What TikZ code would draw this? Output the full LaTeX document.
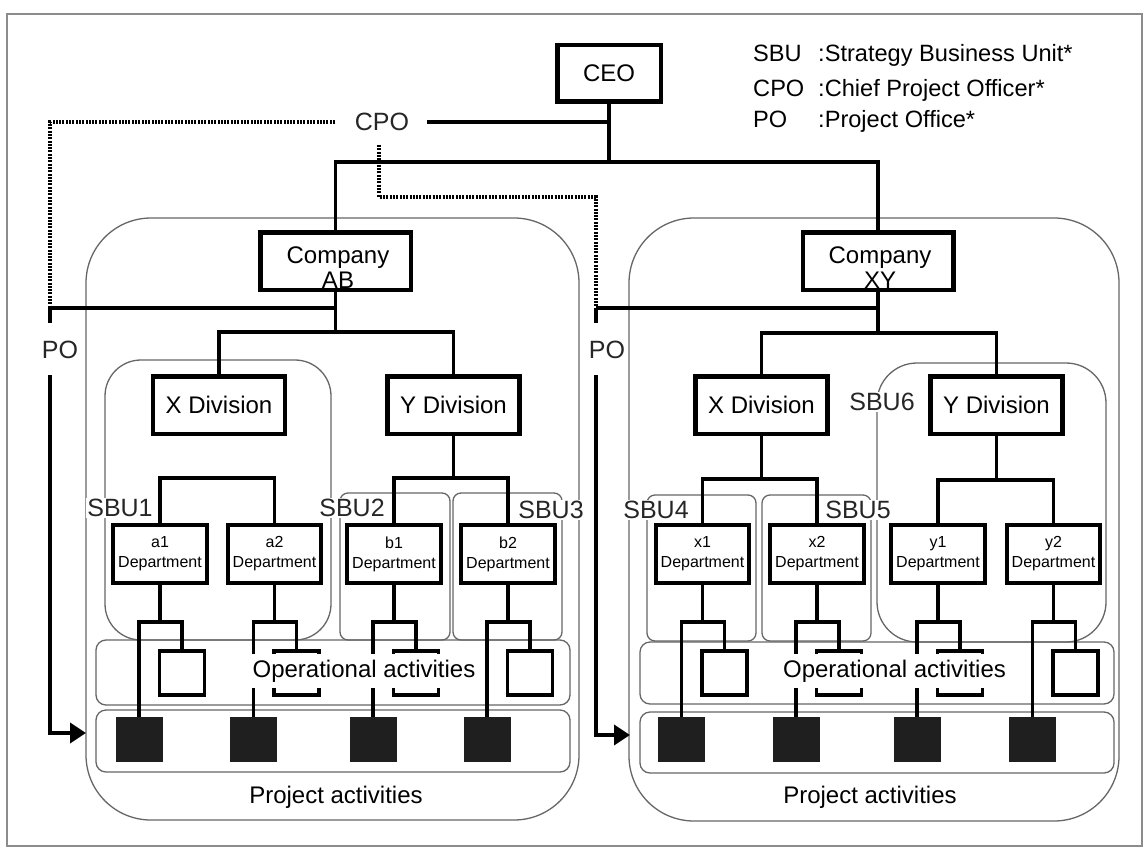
\documentclass[tikz,border=0pt]{standalone}
\usepackage{fontspec}
\setmainfont{Liberation Sans}
\usetikzlibrary{arrows.meta}
\begin{document}
\begin{tikzpicture}[x=1pt,y=-1pt,
  conn/.style={line width=3.8pt},
  thinline/.style={draw=black!60, line width=1.3pt},
  bx/.style={draw, line width=4.5pt, fill=white, inner sep=0pt, font=\fontsize{24pt}{28pt}\selectfont},
  divbox/.style={bx, minimum width=132pt, minimum height=57.5pt},
  dept/.style={draw, line width=4pt, fill=white, minimum width=93.5pt, minimum height=57.5pt, inner sep=0pt, align=center, font=\fontsize{16pt}{20pt}\selectfont},
  opsq/.style={draw, line width=3.8pt, minimum width=45pt, minimum height=44pt, inner sep=0pt},
  bksq/.style={fill=black!88, minimum width=47pt, minimum height=45pt, inner sep=0pt},
  lab/.style={fill=white, inner sep=1pt, text=black!85, font=\fontsize{25pt}{28pt}\selectfont},
  txt/.style={font=\fontsize{24pt}{28pt}\selectfont, inner sep=0pt},
  legtxt/.style={font=\fontsize{23.6pt}{28pt}\selectfont, inner sep=0pt, anchor=base west},
  optxt/.style={fill=white, inner xsep=5pt, inner ysep=6pt, font=\fontsize{24pt}{28pt}\selectfont},
  dots/.style={line width=3.6pt, dash pattern=on 2pt off 1.3pt},
]
\useasboundingbox (0,0) rectangle (1147,848);
\draw[black!45, line width=1.4pt] (7,14) rectangle (1142,846);

% company containers
\draw[thinline, rounded corners=65pt] (86,218) rectangle (579,820);
\draw[thinline, rounded corners=65pt] (629,218) rectangle (1119,821);
% SBU containers
\draw[thinline, rounded corners=36pt] (105,360) rectangle (331,640);
\draw[thinline, rounded corners=8pt] (340,493) rectangle (450,640);
\draw[thinline, rounded corners=8pt] (453,493) rectangle (562,640);
\draw[thinline, rounded corners=8pt] (647,495) rectangle (756,641);
\draw[thinline, rounded corners=8pt] (762,495) rectangle (871,641);
\draw[thinline, rounded corners=40pt] (877,363) rectangle (1106,642);
% activity bands
\draw[thinline, rounded corners=10pt] (96,640) rectangle (570,705);
\draw[thinline, rounded corners=10pt] (96,710) rectangle (570,772);
\draw[thinline, rounded corners=10pt] (640,642) rectangle (1114,704);
\draw[thinline, rounded corners=10pt] (640,712) rectangle (1114,773);

% main boxes
\node[bx, minimum width=103.5pt, minimum height=56.5pt] (ceo) at (609,73.5) {CEO};
\node[bx, minimum width=150.5pt, minimum height=57.5pt] (ab) at (335.5,261) {};
\node[txt, anchor=base] (abt1) at (338,263) {Company};
\node[txt, anchor=base] (abt2) at (338,288) {AB};
\node[bx, minimum width=150.5pt, minimum height=57.5pt] (xy) at (878,261) {};
\node[txt, anchor=base] (xyt1) at (880,263) {Company};
\node[txt, anchor=base] (xyt2) at (880,288) {XY};

\node[divbox] (xdl) at (219,405) {X Division};
\node[divbox] (ydl) at (453.5,405) {Y Division};
\node[divbox] (xdr) at (761.5,405) {X Division};
\node[divbox] (ydr) at (996.5,405) {Y Division};

\foreach \n/\c in {a1/160,a2/274.5,b1/394,b2/508,x1/702.5,x2/817,y1/938,y2/1053.5} {
  \node[dept] (\n) at (\c,554) {\n\\Department};
  \node[bksq] (bk\n) at (\c-21,739.5) {};
  \node[opsq] (op\n) at (\c+22,673) {};
  \coordinate (j\n) at (\c,622);
}

% CPO and legend
\node[lab, fill=none] (cpo) at (382,122) {CPO};
\node[legtxt] (l1a) at (753,62) {SBU};
\node[legtxt] (l1b) at (818,62) {:Strategy Business Unit*};
\node[legtxt] (l2a) at (753,96) {CPO};
\node[legtxt] (l2b) at (818,96) {:Chief Project Officer*};
\node[legtxt] (l3a) at (753,128) {PO};
\node[legtxt] (l3b) at (818,128) {:Project Office*};

% coordinates
\coordinate (top) at (609,162);
\coordinate (cpoR) at (427,122);
\coordinate (cpoL) at (335,122);
\coordinate (dL) at (50,122);
\coordinate (po1) at (50,308);
\coordinate (lpoT) at (50,323);
\coordinate (lpoB) at (50,375);
\coordinate (arrL) at (86,733);
\coordinate (cpoD) at (379,145);
\coordinate (dR1) at (379,197);
\coordinate (dR2) at (596,197);
\coordinate (po2) at (596,308);
\coordinate (rpoT) at (596,323);
\coordinate (rpoB) at (596,375);
\coordinate (arrR) at (630,735);
\coordinate (sab) at (335.5,332);
\coordinate (sxy) at (878,333);
\coordinate (sa) at (217,478);
\coordinate (sb) at (453.5,478);
\coordinate (sx) at (761.5,479);
\coordinate (sy) at (996.5,480);

% top connectors
\draw[conn] (cpoR) -- (ceo.south |- cpoR);
\draw[conn] (ceo.south) -- (top);
\draw[conn] (ab.north) |- (top) -| (xy.north);

% CPO dotted lines and PO lines
\draw[dots] (cpoL) -- (dL) -- (po1);
\draw[dots] (cpoD) -- (dR1) -- (dR2) -- (po2);
\draw[conn] (po1) -- (po1 -| ab.south);
\draw[conn] (po1) -- (lpoT);
\draw[conn, -{Triangle[length=16pt, width=20pt]}] (lpoB) |- (arrL);
\draw[conn] (po2) -- (po2 -| xy.south);
\draw[conn] (po2) -- (rpoT);
\draw[conn, -{Triangle[length=16pt, width=20pt]}] (rpoB) |- (arrR);

% division connectors
\draw[conn] (ab.south) -- (sab);
\draw[conn] (xdl.north) |- (sab) -| (ydl.north);
\draw[conn] (xy.south) -- (sxy);
\draw[conn] (xdr.north) |- (sxy) -| (ydr.north);
\draw[conn] (a1.north) |- (sa) -| (a2.north);
\draw[conn] (ydl.south) -- (sb);
\draw[conn] (b1.north) |- (sb) -| (b2.north);
\draw[conn] (xdr.south) -- (sx);
\draw[conn] (x1.north) |- (sx) -| (x2.north);
\draw[conn] (ydr.south) -- (sy);
\draw[conn] (y1.north) |- (sy) -| (y2.north);

% department to activities
\foreach \n in {a1,a2,b1,b2,x1,x2,y1,y2} {
  \draw[conn] (\n.south) -- (j\n);
  \draw[conn] (bk\n.north) |- (j\n) -| (op\n.north);
}

% activity texts
\node[optxt] (opl) at (364,671) {Operational activities};
\node[optxt] (opr) at (894.5,671) {Operational activities};
\node[txt] (pal) at (336,797) {Project activities};
\node[txt] (par) at (870,797) {Project activities};

% labels
\node[lab] (sbu1) at (120,508) {SBU1};
\node[lab] (sbu2) at (352,508) {SBU2};
\node[lab] (sbu3) at (551,510) {SBU3};
\node[lab] (sbu4) at (656,510) {SBU4};
\node[lab] (sbu5) at (858,510) {SBU5};
\node[lab] (sbu6) at (882,402) {SBU6};
\node[lab, fill=none] (lpo) at (60,350) {PO};
\node[lab, fill=none] (rpo) at (607,350) {PO};
\end{tikzpicture}
\end{document}
